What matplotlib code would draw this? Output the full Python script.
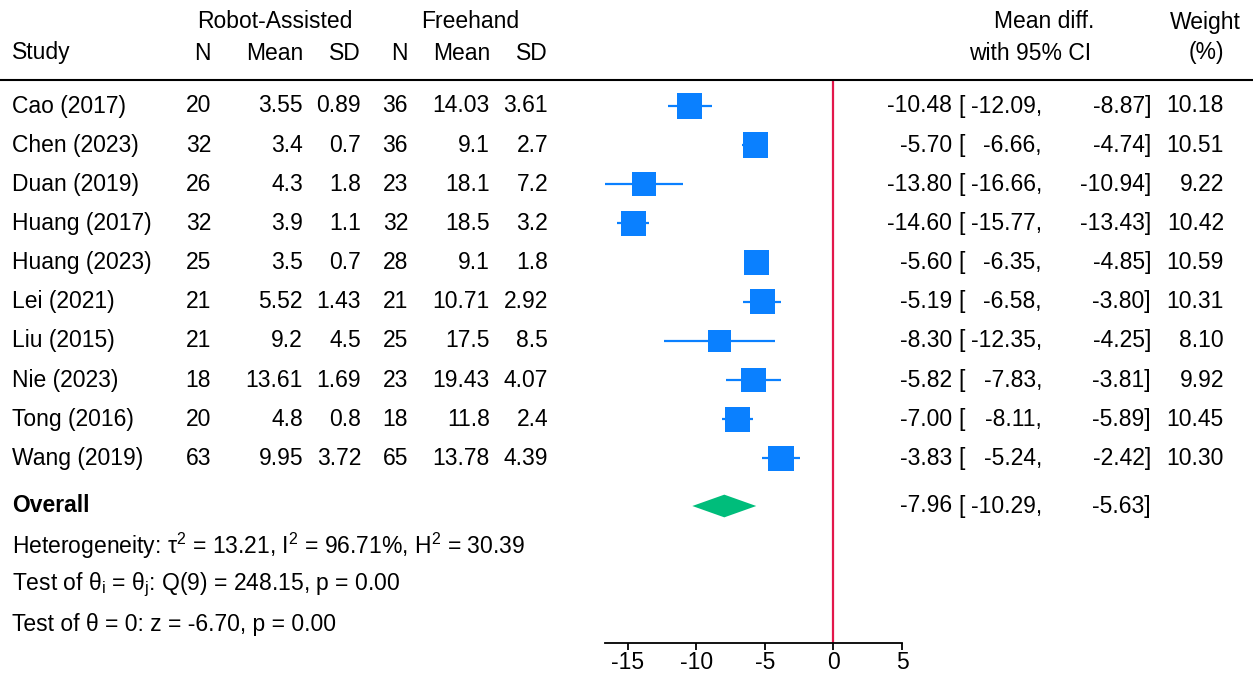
import matplotlib
matplotlib.use("Agg")
import matplotlib.pyplot as plt
from matplotlib import transforms
from matplotlib.lines import Line2D

plt.rcParams['font.family'] = ['Liberation Sans', 'DejaVu Sans']
plt.rcParams['mathtext.fontset'] = 'custom'
plt.rcParams['mathtext.rm'] = 'Liberation Sans'
plt.rcParams['mathtext.it'] = 'Liberation Sans:italic'
plt.rcParams['mathtext.bf'] = 'Liberation Sans:bold'
plt.rcParams['axes.unicode_minus'] = False

# ---------------- data ----------------
studies = ["Cao (2017)", "Chen (2023)", "Duan (2019)", "Huang (2017)", "Huang (2023)",
           "Lei (2021)", "Liu (2015)", "Nie (2023)", "Tong (2016)", "Wang (2019)"]
n_robot = ["20", "32", "26", "32", "25", "21", "21", "18", "20", "63"]
mean_robot = ["3.55", "3.4", "4.3", "3.9", "3.5", "5.52", "9.2", "13.61", "4.8", "9.95"]
sd_robot = ["0.89", "0.7", "1.8", "1.1", "0.7", "1.43", "4.5", "1.69", "0.8", "3.72"]
n_free = ["36", "36", "23", "32", "28", "21", "25", "23", "18", "65"]
mean_free = ["14.03", "9.1", "18.1", "18.5", "9.1", "10.71", "17.5", "19.43", "11.8", "13.78"]
sd_free = ["3.61", "2.7", "7.2", "3.2", "1.8", "2.92", "8.5", "4.07", "2.4", "4.39"]
mean_diff = [-10.48, -5.70, -13.80, -14.60, -5.60, -5.19, -8.30, -5.82, -7.00, -3.83]
ci_low = [-12.09, -6.66, -16.66, -15.77, -6.35, -6.58, -12.35, -7.83, -8.11, -5.24]
ci_high = [-8.87, -4.74, -10.94, -13.43, -4.85, -3.80, -4.25, -3.81, -5.89, -2.42]
weights = [10.18, 10.51, 9.22, 10.42, 10.59, 10.31, 8.10, 9.92, 10.45, 10.30]
overall = (-7.96, -10.29, -5.63)
x_ticks = [-15, -10, -5, 0, 5]
stats_lines = [
    r"Heterogeneity: τ$^2$ = 13.21, I$^2$ = 96.71%, H$^2$ = 30.39",
    r"Test of θ$_\mathrm{i}$ = θ$_\mathrm{j}$: Q(9) = 248.15, p = 0.00",
    r"Test of θ = 0: z = -6.70, p = 0.00",
]

# ---------------- layout ----------------
W, H = 1253, 675
fig = plt.figure(figsize=(W / 100, H / 100), dpi=100)
fig.patch.set_facecolor("white")

ROW0, ROWSTEP = 106, 39.15
top_px, bot_px = 80, 643
ax = fig.add_axes([605 / W, (H - bot_px) / H, (902 - 605) / W, (bot_px - top_px) / H])
ax.set_xlim(min(ci_low), max(x_ticks))
ax.set_ylim((bot_px - ROW0) / ROWSTEP, (top_px - ROW0) / ROWSTEP)
for s in ["top", "right", "left"]:
    ax.spines[s].set_visible(False)
ax.spines["bottom"].set_linewidth(1.3)
ax.set_yticks([])
ax.set_xticks(x_ticks)
FS = 16.5
ax.tick_params(axis="x", direction="out", length=5, width=1.3, labelsize=FS, pad=1)
ax.patch.set_alpha(0)

blue = "#0A80FF"
green = "#00BD7B"
red = "#E3174A"

rows = list(range(len(studies)))
overall_row = (506 - ROW0) / ROWSTEP
stat_rows = [(546 - ROW0) / ROWSTEP, (585 - ROW0) / ROWSTEP, (624 - ROW0) / ROWSTEP]

ax.axvline(0, color=red, lw=1.6, zorder=1)
ax.hlines(rows, ci_low, ci_high, color=blue, lw=1.6, zorder=2)
ax.scatter(mean_diff, rows, s=[w * 32 for w in weights], marker="s", color=blue,
           edgecolors="none", zorder=3)
est, lo, hi = overall
ax.fill([lo, est, hi, est], [overall_row, overall_row - 0.29, overall_row, overall_row + 0.29],
        color=green, lw=0, zorder=3)

# header rule
fig.add_artist(Line2D([0, 1], [(H - top_px) / H] * 2, transform=fig.transFigure,
                      color="black", lw=1.5))

tr = transforms.blended_transform_factory(fig.transFigure, ax.transData)


def px(x):
    return x / W


def fy(y):
    return (H - y) / H


# column headers
hdr = dict(transform=fig.transFigure, fontsize=FS, va="center")
fig.text(px(275), fy(22), "Robot-Assisted", ha="center", **hdr)
fig.text(px(470), fy(22), "Freehand", ha="center", **hdr)
fig.text(px(12), fy(53), "Study", ha="left", **hdr)
for x, lab in [(211, "N"), (303, "Mean"), (361, "SD"), (408, "N"), (490, "Mean"), (548, "SD")]:
    fig.text(px(x), fy(53), lab, ha="right", **hdr)
fig.text(px(1044), fy(22), "Mean diff.", ha="center", **hdr)
fig.text(px(1030), fy(53), "with 95% CI", ha="center", **hdr)
fig.text(px(1241), fy(22), "Weight", ha="right", **hdr)
fig.text(px(1206), fy(53), "(%)", ha="center", **hdr)

EST_R, BR_L, LO_R, HI_R, W_R = 952, 958, 1042, 1151, 1224

cols = [(211, n_robot), (303, mean_robot), (361, sd_robot),
        (408, n_free), (490, mean_free), (548, sd_free)]
txt = dict(transform=tr, va="center", fontsize=FS)


def ci_text(r, e, l, h):
    ax.text(px(EST_R), r, f"{e:.2f}", ha="right", **txt)
    ax.text(px(BR_L), r, "[", ha="left", **txt)
    ax.text(px(LO_R), r, f"{l:.2f},", ha="right", **txt)
    ax.text(px(HI_R), r, f"{h:.2f}]", ha="right", **txt)


for r in rows:
    ax.text(px(12), r, studies[r], ha="left", **txt)
    for x, vals in cols:
        ax.text(px(x), r, vals[r], ha="right", **txt)
    ci_text(r, mean_diff[r], ci_low[r], ci_high[r])
    ax.text(px(W_R), r, f"{weights[r]:.2f}", ha="right", **txt)

ax.text(px(12), overall_row, "Overall", ha="left", fontweight="bold", **txt)
ci_text(overall_row, est, lo, hi)

for r, line in zip(stat_rows, stats_lines):
    ax.text(px(12), r, line, ha="left", **txt)

fig.savefig("out.png", dpi=100, facecolor="white")
